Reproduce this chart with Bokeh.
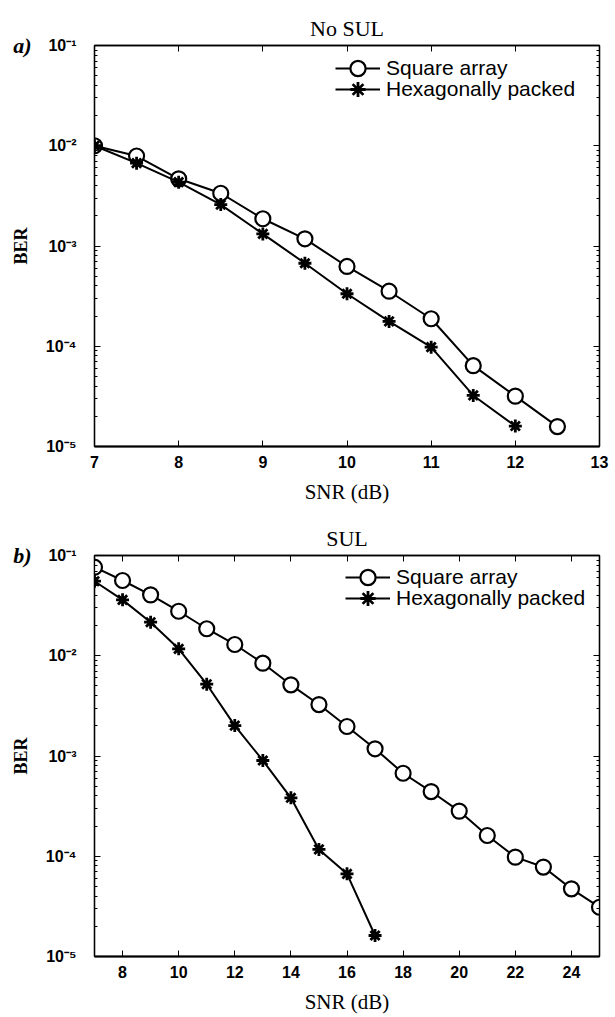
from bokeh.plotting import figure
from bokeh.models import (FixedTicker, LinearAxis, LogAxis, Legend, LegendItem,
                          CustomJSTickFormatter)
from bokeh.layouts import column
from bokeh.embed import file_html
from bokeh.resources import INLINE

# ---- data: panel a) No SUL ----
snr_a_square = [7, 7.5, 8, 8.5, 9, 9.5, 10, 10.5, 11, 11.5, 12, 12.5]
ber_a_square = [0.0100, 0.0079, 0.00468, 0.00336, 0.00187, 0.00118, 0.000625,
                0.000354, 0.000188, 6.4e-5, 3.18e-5, 1.58e-5]
snr_a_hex = [7, 7.5, 8, 8.5, 9, 9.5, 10, 10.5, 11, 11.5, 12]
ber_a_hex = [0.0100, 0.0067, 0.00433, 0.00259, 0.00132, 0.000673, 0.000334,
             0.000177, 9.8e-5, 3.23e-5, 1.6e-5]
x_ticks_a = [7, 8, 9, 10, 11, 12, 13]

# ---- data: panel b) SUL ----
snr_b_square = [7, 8, 9, 10, 11, 12, 13, 14, 15, 16, 17, 18, 19, 20, 21, 22, 23, 24, 25]
ber_b_square = [0.0764, 0.0563, 0.0405, 0.0278, 0.0186, 0.01295, 0.00843, 0.00513,
                0.00326, 0.00197, 0.00118, 0.000673, 0.000442, 0.000282, 0.000161,
                9.8e-5, 7.8e-5, 4.73e-5, 3.1e-5]
snr_b_hex = [7, 8, 9, 10, 11, 12, 13, 14, 15, 16, 17]
ber_b_hex = [0.0554, 0.0361, 0.0216, 0.01173, 0.0052, 0.00201, 0.000902, 0.000383,
             0.000117, 6.68e-5, 1.62e-5]
x_ticks_b = [8, 10, 12, 14, 16, 18, 20, 22, 24]

y_exponents = [-1, -2, -3, -4, -5]
y_tick_labels = ["10\u207b\u00b9", "10\u207b\u00b2", "10\u207b\u00b3", "10\u207b\u2074", "10\u207b\u2075"]
series_names = ["Square array", "Hexagonally packed"]

SANS = "Liberation Sans"
SERIF = "Liberation Serif"

W = 615
FRAME_L, FRAME_R = 94, 599


def blank_labels():
    return CustomJSTickFormatter(code="return ''")


def make_panel(title, tag, xr, x_ticks, sq_x, sq_y, hx_x, hx_y, height, top, bottom, rows_dy):
    p = figure(width=W, height=height, x_range=xr, y_range=(1e-5, 1e-1),
               y_axis_type="log", output_backend="svg", toolbar_location=None,
               title=title,
               min_border_left=FRAME_L, min_border_right=W - FRAME_R,
               min_border_top=top, min_border_bottom=bottom)
    p.grid.visible = False
    p.outline_line_color = "black"
    p.outline_line_width = 1.3
    p.background_fill_color = "white"
    p.border_fill_color = "white"
    p.title.align = "center"
    p.title.text_font = SERIF
    p.title.text_font_style = "normal"
    p.title.text_font_size = "22px"
    p.title.text_color = "black"
    p.title.standoff = 10

    major_y = [10.0 ** e for e in y_exponents]
    minor_y = [k * 10.0 ** e for e in range(-5, -1) for k in range(2, 10)]
    yticker = FixedTicker(ticks=major_y, minor_ticks=minor_y)
    xticker = FixedTicker(ticks=x_ticks)

    # bottom axis
    xa = p.xaxis[0]
    xa.ticker = xticker
    xa.axis_line_width = 2
    xa.major_tick_in = 6
    xa.major_tick_out = 0
    xa.minor_tick_line_color = None
    xa.major_label_standoff = 9
    xa.major_label_text_font = SANS
    xa.major_label_text_font_style = "bold"
    xa.major_label_text_font_size = "16px"
    xa.major_label_text_color = "black"
    xa.axis_label = "SNR (dB)"
    xa.axis_label_text_font = SERIF
    xa.axis_label_text_font_style = "normal"
    xa.axis_label_text_font_size = "21px"
    xa.axis_label_standoff = 9
    xa.axis_label_text_color = "black"

    # left axis: decades written as 10 with a superscript exponent
    ya = p.yaxis[0]
    ya.ticker = yticker
    ya.formatter = CustomJSTickFormatter(
        args=dict(exps=y_exponents, labels=y_tick_labels),
        code="const i = exps.indexOf(Math.round(Math.log10(tick))); return i >= 0 ? labels[i] : '';")
    ya.major_label_text_font = SANS
    ya.major_label_text_font_style = "bold"
    ya.major_label_text_font_size = "16px"
    ya.major_label_text_color = "black"
    ya.major_label_standoff = 18
    ya.major_tick_in = 6
    ya.major_tick_out = 0
    ya.minor_tick_in = 3
    ya.minor_tick_out = 0
    ya.axis_line_width = 1.3

    # outer left guide: carries the panel tag at the top decade and the "BER" title
    tag_ax = LogAxis(ticker=FixedTicker(ticks=[10.0 ** y_exponents[0]]),
                     formatter=CustomJSTickFormatter(args=dict(tag=tag), code="return tag;"),
                     axis_line_color=None, major_tick_line_color=None,
                     minor_tick_line_color=None,
                     major_label_standoff=5,
                     major_label_text_font=SERIF, major_label_text_font_style="bold italic",
                     major_label_text_font_size="22px", major_label_text_color="black",
                     axis_label="BER", axis_label_standoff=-21,
                     axis_label_text_font=SERIF, axis_label_text_font_style="bold",
                     axis_label_text_font_size="18px", axis_label_text_color="black")
    p.add_layout(tag_ax, "left")

    # mirrored ticks on top and right
    top_ax = LinearAxis(ticker=xticker, formatter=blank_labels(),
                        major_label_text_font_size="1px",
                        major_tick_in=6, major_tick_out=0,
                        minor_tick_line_color=None, major_label_standoff=5,
                        axis_line_width=1.3)
    right_ax = LogAxis(ticker=yticker, formatter=blank_labels(),
                       major_label_text_font_size="1px",
                       major_tick_in=6, major_tick_out=0,
                       minor_tick_in=3, minor_tick_out=0, major_label_standoff=0,
                       axis_line_width=1.3)
    p.add_layout(top_ax, "above")
    p.add_layout(right_ax, "right")

    # curves
    l1 = p.line(sq_x, sq_y, line_color="black", line_width=2)
    m1 = p.scatter(sq_x, sq_y, marker="circle", size=15, fill_color="white",
                   line_color="black", line_width=2.2)
    l2 = p.line(hx_x, hx_y, line_color="black", line_width=2)
    m2 = p.scatter(hx_x, hx_y, marker="asterisk", size=13,
                   line_color="black", line_width=2.8)

    # one legend per row so the rows can sit closer than the sample height
    fh = height - top - bottom
    gh = 38
    for name, rends, dy in zip(series_names, [[l1, m1], [l2, m2]], rows_dy):
        lg = Legend(items=[LegendItem(label=name, renderers=rends)],
                    location=(241 + rows_dy[2], fh - dy - gh // 2),
                    label_text_font=SANS, label_text_font_size="21px",
                    label_text_color="black",
                    border_line_alpha=0, background_fill_alpha=0,
                    glyph_width=45, glyph_height=gh, label_height=20,
                    spacing=0, padding=0, margin=0, label_standoff=6)
        p.add_layout(lg)
    return p


p1 = make_panel("No SUL", "a)", (7, 13), x_ticks_a,
                snr_a_square, ber_a_square, snr_a_hex, ber_a_hex,
                height=508, top=45, bottom=62, rows_dy=(23, 44, 0))
p2 = make_panel("SUL", "b)", (7, 25), x_ticks_b,
                snr_b_square, ber_b_square, snr_b_hex, ber_b_hex,
                height=509, top=47, bottom=61, rows_dy=(22, 43, 10))

layout = column(p1, p2, spacing=0)
open("out.html", "w").write(file_html(layout, INLINE))
